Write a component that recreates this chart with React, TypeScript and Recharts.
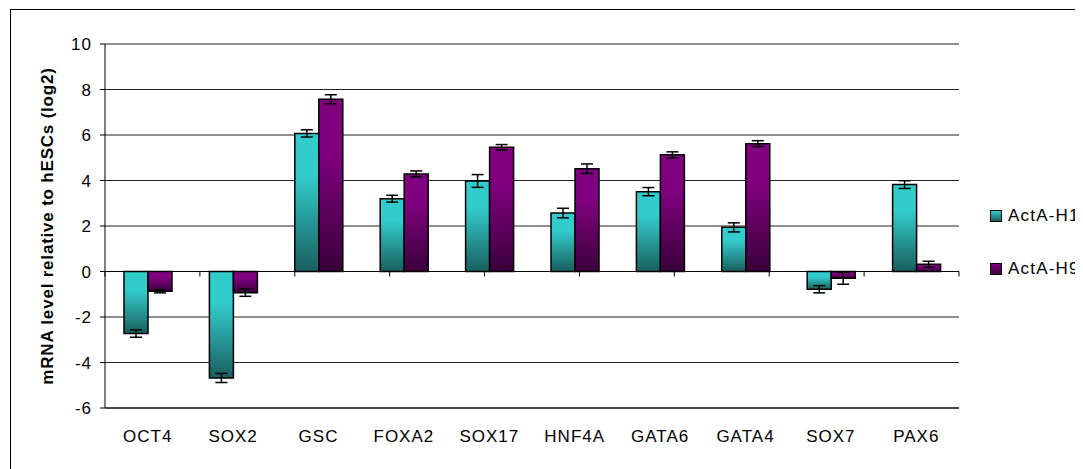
import { Bar, BarChart, CartesianGrid, ErrorBar, ReferenceLine, XAxis, YAxis } from "recharts";

const genes = ["OCT4", "SOX2", "GSC", "FOXA2", "SOX17", "HNF4A", "GATA6", "GATA4", "SOX7", "PAX6"];
const h1 = [-2.73, -4.68, 6.07, 3.2, 3.98, 2.57, 3.51, 1.94, -0.78, 3.82];
const h1Err = [0.16, 0.2, 0.16, 0.15, 0.28, 0.21, 0.18, 0.2, 0.16, 0.17];
const h9 = [-0.87, -0.93, 7.57, 4.29, 5.46, 4.52, 5.13, 5.62, -0.3, 0.32];
const h9Err = [0.07, 0.16, 0.2, 0.13, 0.12, 0.21, 0.13, 0.13, 0.26, 0.13];
const yTicks = [-6, -4, -2, 0, 2, 4, 6, 8, 10];
// group boundaries along the zero line (0..genes.length)
const edges = [0, 1, 2, 3, 4, 5, 6, 7, 8, 9, 10];

const series = [
  { key: "h1", err: "h1Err", name: "ActA-H1", grad: "gH1", top: "#33cccc", bottom: "#1a5e5e" },
  { key: "h9", err: "h9Err", name: "ActA-H9", grad: "gH9", top: "#800080", bottom: "#3a003a" },
];

const data = genes.map((g, i) => ({ gene: g, h1: h1[i], h1Err: h1Err[i], h9: h9[i], h9Err: h9Err[i] }));

const font = "'Liberation Sans', Arial, sans-serif";

function LegendBox() {
  return (
    <div style={{ position: "absolute", left: 982, top: 198, fontFamily: font, fontSize: 17, color: "#000" }}>
      {series.map((s, i) => (
        <div key={s.key} style={{ display: "flex", alignItems: "center", height: 20, marginTop: i ? 33 : 0 }}>
          <span
            style={{
              display: "inline-block",
              width: 10,
              height: 10,
              border: "1px solid #000",
              background: `linear-gradient(${s.top}, ${s.bottom})`,
              marginRight: 6,
            }}
          />
          <span style={{ letterSpacing: 1.2 }}>{s.name}</span>
        </div>
      ))}
    </div>
  );
}

function YTitle(props: any) {
  const vb = props.viewBox;
  const cx = vb.x + 39;
  const cy = vb.y + vb.height / 2;
  return (
    <text
      x={cx}
      y={cy}
      transform={`rotate(-90 ${cx} ${cy})`}
      textAnchor="middle"
      dominantBaseline="central"
      style={{ fontFamily: font, fontSize: 17, fontWeight: "bold", fill: "#000", letterSpacing: 0.8 }}
    >
      mRNA level relative to hESCs (log2)
    </text>
  );
}

export default function App() {
  return (
    <div style={{ position: "relative", width: 1075, height: 461, overflow: "hidden", background: "#fff" }}>
      <div
        style={{
          position: "absolute",
          left: 2,
          top: 1,
          width: 2000,
          height: 2000,
          borderTop: "1px solid #000",
          borderLeft: "1px solid #000",
        }}
      />
      <div style={{ position: "absolute", left: 0, top: 0 }}>
        <BarChart
          width={1075}
          height={461}
          data={data}
          margin={{ top: 36, right: 124, bottom: 31, left: 0 }}
          barGap={0}
          barSize={24}
        >
          <defs>
            {series.map((s) => (
              <linearGradient key={s.grad} id={s.grad} x1="0" y1="0" x2="0" y2="1">
                <stop offset="0" stopColor={s.top} />
                <stop offset="0.3" stopColor={s.top} />
                <stop offset="1" stopColor={s.bottom} />
              </linearGradient>
            ))}
          </defs>
          <CartesianGrid vertical={false} stroke="#222" strokeOpacity={1} />
          <XAxis
            dataKey="gene"
            height={30}
            tickLine={false}
            tickSize={0}
            tickMargin={22}
            axisLine={{ stroke: "#000" }}
            tick={{ fill: "#000", fontFamily: font, fontSize: 17, letterSpacing: 1 }}
            interval={0}
          />
          <XAxis xAxisId="edges" type="number" domain={[0, 10]} hide />
          <YAxis
            width={97}
            domain={[-6, 10]}
            ticks={yTicks}
            interval={0}
            tickSize={5}
            tickMargin={8}
            axisLine={{ stroke: "#000" }}
            tickLine={{ stroke: "#000" }}
            tick={{ fill: "#000", fontFamily: font, fontSize: 17, letterSpacing: 1 }}
            label={{ content: YTitle }}
          />
          <ReferenceLine y={0} stroke="#000" strokeWidth={1} />
          {edges.map((b) => (
            <ReferenceLine
              key={b}
              xAxisId="edges"
              segment={[
                { x: b, y: 0 },
                { x: b, y: -0.22 },
              ]}
              stroke="#000"
            />
          ))}
          {series.map((s) => (
            <Bar
              key={s.key}
              dataKey={s.key}
              name={s.name}
              fill={`url(#${s.grad})`}
              stroke="#000"
              strokeWidth={1.5}
              isAnimationActive={false}
            >
              <ErrorBar dataKey={s.err} width={6} stroke="#000" strokeWidth={1.5} isAnimationActive={false} />
            </Bar>
          ))}
        </BarChart>
      </div>
      <LegendBox />
    </div>
  );
}
